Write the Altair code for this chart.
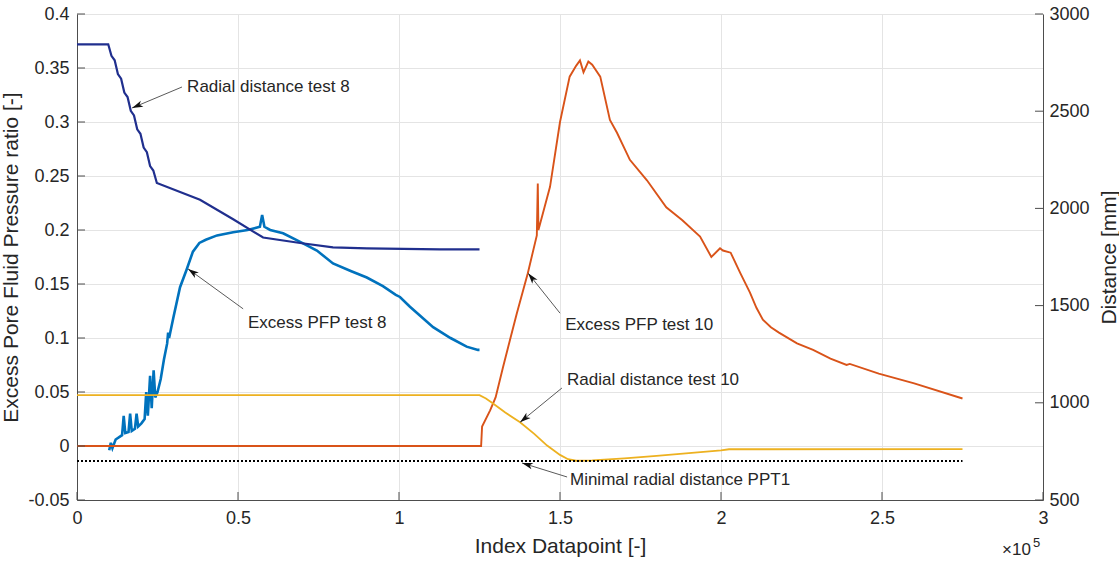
import math
import altair as alt
import pandas as pd

# ------------------------------------------------------------------ data
# Excess pore fluid pressure ratio, test 8  (index datapoint, ratio [-])
PFP8 = [(10000, -0.004), (10500, 0.003), (11000, -0.002), (12000, 0.006), (14000, 0.010),
        (14500, 0.028), (15000, 0.012), (16000, 0.013), (16500, 0.030), (17000, 0.014),
        (18000, 0.016), (18500, 0.030), (19000, 0.018), (20000, 0.021), (21000, 0.025),
        (21500, 0.050), (22000, 0.028), (22700, 0.065), (23200, 0.035), (23800, 0.070),
        (24300, 0.045), (25000, 0.050), (26000, 0.062), (27000, 0.080), (28000, 0.095),
        (28300, 0.105), (28600, 0.100), (30000, 0.120), (32000, 0.147), (34000, 0.163),
        (36000, 0.180), (38000, 0.188), (40000, 0.191), (43500, 0.195), (48500, 0.198),
        (53000, 0.200), (56800, 0.203), (57500, 0.214), (58200, 0.203), (60000, 0.200),
        (64000, 0.197), (69300, 0.189), (74500, 0.181), (79500, 0.169), (85000, 0.162),
        (90000, 0.156), (95000, 0.148), (99000, 0.140), (100300, 0.138), (103400, 0.129),
        (110600, 0.110), (116000, 0.100), (121000, 0.092), (124500, 0.089), (125000, 0.089)]

# Excess pore fluid pressure ratio, test 10
PFP10 = [(0, 0.0), (125500, 0.0), (125800, 0.018), (128300, 0.033), (130000, 0.045),
         (132300, 0.073), (136600, 0.123), (140000, 0.160), (142800, 0.195), (143100, 0.243),
         (143300, 0.200), (146900, 0.240), (150000, 0.300), (153000, 0.342), (155000, 0.352),
         (156200, 0.357), (157300, 0.346), (158800, 0.356), (160000, 0.353), (162500, 0.342),
         (165500, 0.302), (167700, 0.290), (171700, 0.265), (177000, 0.246), (183000, 0.221),
         (188000, 0.209), (193500, 0.194), (197000, 0.175), (199700, 0.183), (200600, 0.181),
         (203000, 0.179), (206000, 0.160), (209000, 0.142), (211000, 0.128), (213000, 0.117),
         (215500, 0.110), (218000, 0.105), (223600, 0.095), (228600, 0.089), (234000, 0.081),
         (239000, 0.075), (240000, 0.076), (249000, 0.067), (260000, 0.058), (275000, 0.044)]

# Radial distance test 8 [mm]
DIST8 = [(0, 2844), (9700, 2844), (10700, 2785), (11700, 2762), (12700, 2691), (13700, 2667),
         (14700, 2596), (15700, 2573), (16700, 2502), (17700, 2478), (18700, 2407),
         (19700, 2384), (20700, 2313), (21700, 2289), (22700, 2218), (23700, 2195),
         (24800, 2131), (38200, 2044), (48500, 1944), (57800, 1850), (69300, 1822),
         (79500, 1800), (90000, 1794), (112700, 1789), (125000, 1789)]

# Radial distance test 10 [mm]
DIST10 = [(0, 1039), (125000, 1039), (127000, 1022), (129000, 999), (133000, 950),
          (137600, 900), (142000, 840), (146000, 780), (150000, 732), (152500, 710),
          (155000, 702), (160000, 704), (170000, 714), (180000, 727), (190000, 741),
          (200000, 755), (202500, 761), (275000, 762)]

# Minimal radial distance PPT1 [mm]
MINDIST = [(0, 700), (275000, 700)]

# annotations (left-axis units)
ANN_TEXT = ["Radial distance test 8", "Excess PFP test 8", "Excess PFP test 10",
            "Radial distance test 10", "Minimal radial distance PPT1"]
ANN_TEXT_X = [34200, 53100, 151600, 152200, 153100]
ANN_TEXT_Y = [0.332, 0.114, 0.112, 0.061, -0.0315]
ANN_TAIL_X = [32600, 51600, 150000, 150600, 152200]
ANN_TAIL_Y = [0.3324, 0.127, 0.123, 0.0537, -0.0287]
ANN_TIP_X = [17100, 34500, 140100, 137600, 138200]
ANN_TIP_Y = [0.313, 0.164, 0.160, 0.022, -0.0157]

X_TICKS = [0, 50000, 100000, 150000, 200000, 250000, 300000]
YL_TICKS = [-0.05, 0, 0.05, 0.1, 0.15, 0.2, 0.25, 0.3, 0.35, 0.4]
YR_TICKS = [500, 1000, 1500, 2000, 2500, 3000]

# ------------------------------------------------------------------ style
W, H = 966, 486
FONT = "Liberation Sans"
TXT = "#262626"
AX = "#4d4d4d"
GRID = "#e4e4e4"
XDOM = [0, 300000]
YLDOM = [-0.05, 0.4]
YRDOM = [500, 3000]

def frame(pairs, yname):
    return pd.DataFrame({"x": [p[0] for p in pairs], yname: [p[1] for p in pairs],
                         "i": list(range(len(pairs)))})

x_axis = alt.Axis(values=X_TICKS, labelExpr="datum.value / 100000", title="Index Datapoint [-]",
                  grid=True, gridColor=GRID, ticks=False, domainColor=AX, labelFlush=False,
                  labelOverlap=False, labelPadding=9, titlePadding=8)
X = alt.X("x:Q", scale=alt.Scale(domain=XDOM, nice=False, zero=False), axis=x_axis)

yl_axis = alt.Axis(values=YL_TICKS, title="Excess Pore Fluid Pressure ratio [-]",
                   labelExpr="datum.value < 0 ? '-' + format(-datum.value, '.2~f') : format(datum.value, '.2~f')",
                   grid=True, gridColor=GRID, ticks=False, domainColor=AX, orient="left",
                   labelFlush=False, labelOverlap=False, labelPadding=8, titlePadding=6)
YL = alt.Y("v:Q", scale=alt.Scale(domain=YLDOM, nice=False, zero=False), axis=yl_axis)

yr_axis = alt.Axis(values=YR_TICKS, format="d", title="Distance [mm]", orient="right",
                   grid=False, ticks=False, domainColor=AX, titleAngle=270,
                   labelFlush=False, labelOverlap=False, labelPadding=6, titlePadding=30)
YR = alt.Y("mm:Q", scale=alt.Scale(domain=YRDOM, nice=False, zero=False), axis=yr_axis)

YA = alt.Y("v:Q", scale=alt.Scale(domain=YLDOM, nice=False, zero=False), axis=None)
YA2 = alt.Y2("v2:Q")

# ------------------------------------------------------------------ pressure group (left)
pfp8 = alt.Chart(frame(PFP8, "v")).mark_line(color="#0072BD", strokeWidth=2.6).encode(
    x=X, y=YL, order="i:Q")
pfp10 = alt.Chart(frame(PFP10, "v")).mark_line(color="#D95319", strokeWidth=1.9).encode(
    x=X, y=YL, order="i:Q")
left_ticks = alt.Chart(pd.DataFrame({"v": YL_TICKS})).mark_rule(color=AX, strokeWidth=1).encode(
    x=alt.value(0), x2=alt.value(8), y=YL)
bottom_ticks = alt.Chart(pd.DataFrame({"x": X_TICKS})).mark_rule(color=AX, strokeWidth=1).encode(
    x=X, y=alt.value(H), y2=alt.value(H - 8))
left_group = alt.layer(pfp8, pfp10, left_ticks, bottom_ticks)

# ------------------------------------------------------------------ distance group (right)
d8 = alt.Chart(frame(DIST8, "mm")).mark_line(color="#202f8e", strokeWidth=2.2).encode(
    x=X, y=YR, order="i:Q")
d10 = alt.Chart(frame(DIST10, "mm")).mark_line(color="#EDB120", strokeWidth=1.8).encode(
    x=X, y=YR, order="i:Q")
dmin = alt.Chart(frame(MINDIST, "mm")).mark_line(color="#000000", strokeWidth=2,
                                                 strokeDash=[2, 2]).encode(x=X, y=YR)
right_ticks = alt.Chart(pd.DataFrame({"mm": YR_TICKS})).mark_rule(color=AX, strokeWidth=1).encode(
    x=alt.value(W - 8), x2=alt.value(W), y=YR)
right_group = alt.layer(d8, d10, dmin, right_ticks)

# ------------------------------------------------------------------ annotations
def px_angle(tx, ty, hx, hy):
    dx = (hx - tx) / (XDOM[1] - XDOM[0]) * W
    dy = -(hy - ty) / (YLDOM[1] - YLDOM[0]) * H
    return math.degrees(math.atan2(dx, -dy)) % 360

ann = pd.DataFrame({
    "label": ANN_TEXT, "tx": ANN_TEXT_X, "ty": ANN_TEXT_Y,
    "x": ANN_TAIL_X, "v": ANN_TAIL_Y, "x2": ANN_TIP_X, "v2": ANN_TIP_Y,
})
heads = pd.DataFrame({
    "x": ANN_TIP_X, "v": ANN_TIP_Y,
    "ang": [px_angle(a, b, c, d) for a, b, c, d in zip(ANN_TAIL_X, ANN_TAIL_Y, ANN_TIP_X, ANN_TIP_Y)],
})
texts = pd.DataFrame({"label": ANN_TEXT, "x": ANN_TEXT_X, "v": ANN_TEXT_Y})

arrow_lines = alt.Chart(ann).mark_rule(color="#5a5a5a", strokeWidth=1).encode(
    x=X, x2=alt.X2("x2:Q"), y=YA, y2=YA2)
arrow_heads = alt.Chart(heads).mark_point(
    shape="M0,0L-0.7,2.3L0,1.7L0.7,2.3Z", size=90, filled=True, color="#111111",
    opacity=1, strokeWidth=0).encode(x=X, y=YA, angle=alt.Angle("ang:Q", scale=None))
arrow_text = alt.Chart(texts).mark_text(
    align="left", baseline="middle", font=FONT, fontSize=17, color=TXT).encode(
    x=X, y=YA, text="label:N")
exp_base = alt.Chart(pd.DataFrame({"t": ["×10"]})).mark_text(
    align="left", baseline="middle", font=FONT, fontSize=17, color=TXT).encode(
    x=alt.value(W - 41), y=alt.value(H + 50), text="t:N")
exp_sup = alt.Chart(pd.DataFrame({"t": ["5"]})).mark_text(
    align="left", baseline="middle", font=FONT, fontSize=13, color=TXT).encode(
    x=alt.value(W - 10), y=alt.value(H + 43), text="t:N")
ann_group = alt.layer(arrow_lines, arrow_heads, arrow_text, exp_base, exp_sup)

chart = alt.layer(left_group, right_group, ann_group).resolve_scale(y="independent").properties(
    width=W, height=H,
    autosize=alt.AutoSizeParams(type="none"),
    padding={"left": 77, "top": 14, "right": 76, "bottom": 61},
    background="white",
).configure_view(stroke=None).configure_axis(
    labelFont=FONT, labelFontSize=18, labelColor=TXT,
    titleFont=FONT, titleFontSize=21, titleFontWeight="normal", titleColor=TXT,
)

chart.save("out.html", embed_options={"renderer": "svg", "actions": False})
